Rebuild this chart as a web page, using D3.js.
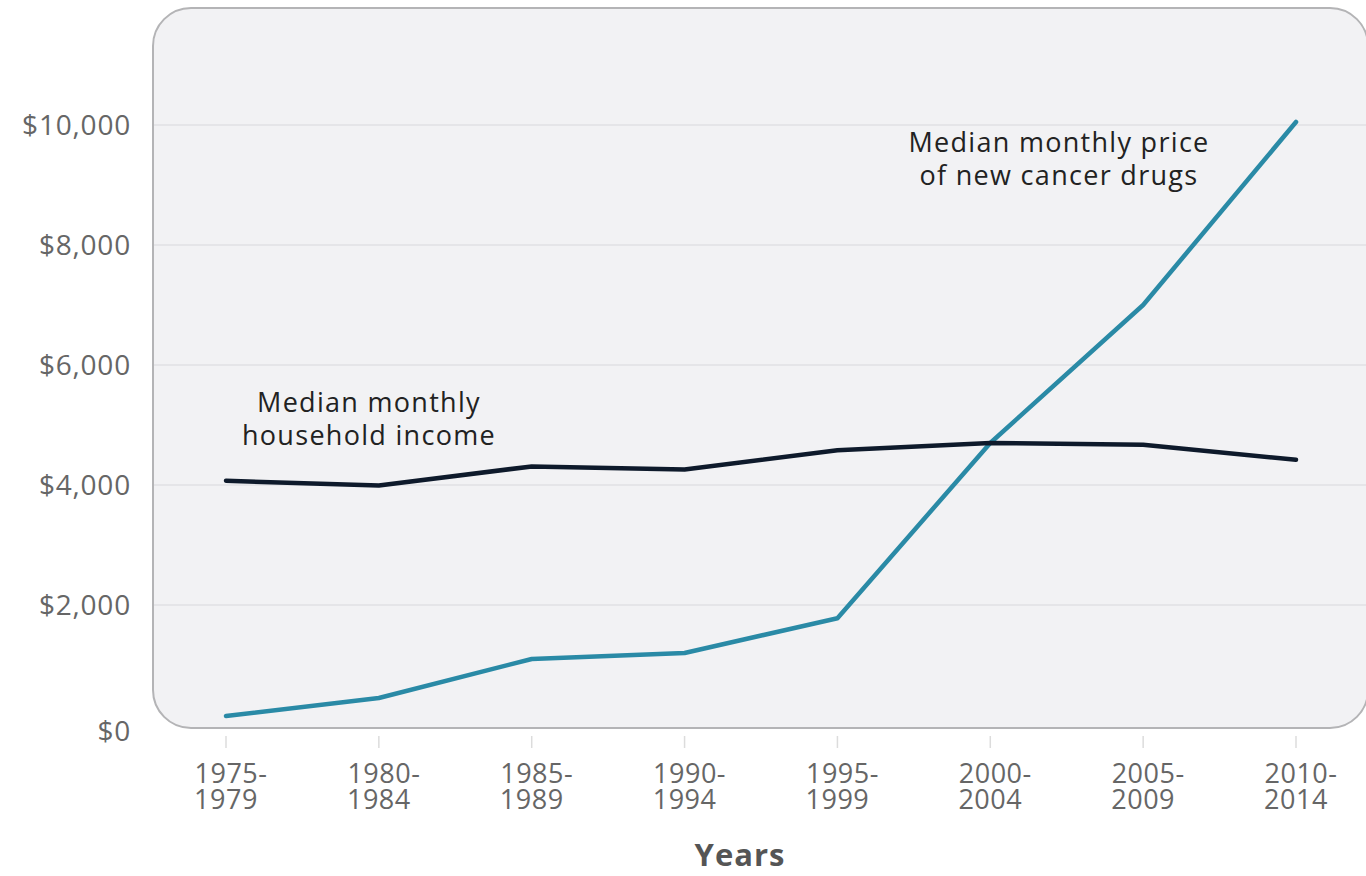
<!DOCTYPE html>
<html>
<head>
<meta charset="utf-8">
<script src="https://cdn.jsdelivr.net/npm/d3@7"></script>
<style>
  body { margin: 0; background: #fff; }
  svg { display: block; font-family: "Open Sans", sans-serif; }
</style>
</head>
<body>
<svg id="chart" width="1366" height="876"></svg>
<script>
const periods = ['1975-1979', '1980-1984', '1985-1989', '1990-1994', '1995-1999', '2000-2004', '2005-2009', '2010-2014'];
const drugPrice = [150, 450, 1100, 1200, 1780, 4700, 7000, 10050];
const householdIncome = [4070, 3990, 4310, 4260, 4580, 4700, 4670, 4420];
const yTicks = [0, 2000, 4000, 6000, 8000, 10000];

const svg = d3.select('#chart');

const x = d3.scalePoint().domain(periods).range([226, 1296]);
const y = d3.scaleLinear().domain([0, 10000]).range([725, 125]);

// panel background
svg.append('rect')
  .attr('x', 153).attr('y', 8)
  .attr('width', 1215).attr('height', 720)
  .attr('rx', 38).attr('ry', 38)
  .attr('fill', '#f2f2f4')
  .attr('stroke', '#b4b4b6')
  .attr('stroke-width', 2);

// gridlines
svg.append('g')
  .selectAll('line')
  .data(yTicks.filter(d => d > 0))
  .enter().append('line')
  .attr('x1', 154).attr('x2', 1366)
  .attr('y1', d => y(d)).attr('y2', d => y(d))
  .attr('stroke', '#e1e1e4')
  .attr('stroke-width', 1.5);

// y labels
svg.append('g')
  .selectAll('text')
  .data(yTicks)
  .enter().append('text')
  .attr('x', 131)
  .attr('y', d => y(d) + (d === 0 ? 16 : 10))
  .attr('text-anchor', 'end')
  .attr('fill', '#666')
  .attr('font-size', 28)
  .attr('letter-spacing', 0.8)
  .text(d => d3.format('$,')(d));

// x ticks
const xg = svg.append('g');
xg.selectAll('line')
  .data(periods)
  .enter().append('line')
  .attr('x1', d => x(d)).attr('x2', d => x(d))
  .attr('y1', 736).attr('y2', 748)
  .attr('stroke', '#dcdcdc')
  .attr('stroke-width', 1.5);

xg.selectAll('text')
  .data(periods)
  .enter().append('text')
  .attr('x', d => x(d))
  .attr('text-anchor', 'middle')
  .attr('fill', '#666')
  .attr('font-size', 27)
  .attr('letter-spacing', 0.5)
  .each(function (d) {
    const parts = d.split('-');
    const t = d3.select(this);
    t.append('tspan').attr('x', x(d) + 5).attr('y', 783).text(parts[0] + '-');
    t.append('tspan').attr('x', x(d)).attr('y', 809).text(parts[1]);
  });

svg.append('text')
  .attr('x', 740).attr('y', 866)
  .attr('text-anchor', 'middle')
  .attr('fill', '#555')
  .attr('font-size', 31)
  .attr('font-weight', 'bold')
  .attr('letter-spacing', 1)
  .text('Years');

// lines
const line = (vals) => d3.line()
  .x((_, i) => x(periods[i]))
  .y(d => y(d))(vals);

svg.append('path')
  .attr('d', line(drugPrice))
  .attr('fill', 'none')
  .attr('stroke', '#2a8aa6')
  .attr('stroke-width', 4.5)
  .attr('stroke-linecap', 'round')
  .attr('stroke-linejoin', 'round');

svg.append('path')
  .attr('d', line(householdIncome))
  .attr('fill', 'none')
  .attr('stroke', '#0e1a2b')
  .attr('stroke-width', 4.5)
  .attr('stroke-linecap', 'round')
  .attr('stroke-linejoin', 'round');

// annotations
const notes = [
  { lines: ['Median monthly', 'household income'], cx: 369, top: 412 },
  { lines: ['Median monthly price', 'of new cancer drugs'], cx: 1059, top: 152 }
];
notes.forEach(n => {
  const t = svg.append('text')
    .attr('text-anchor', 'middle')
    .attr('fill', '#222')
    .attr('font-size', 27)
    .attr('letter-spacing', 1.3);
  n.lines.forEach((l, i) => {
    t.append('tspan').attr('x', n.cx).attr('y', n.top + i * 33).text(l);
  });
});
</script>
</body>
</html>
